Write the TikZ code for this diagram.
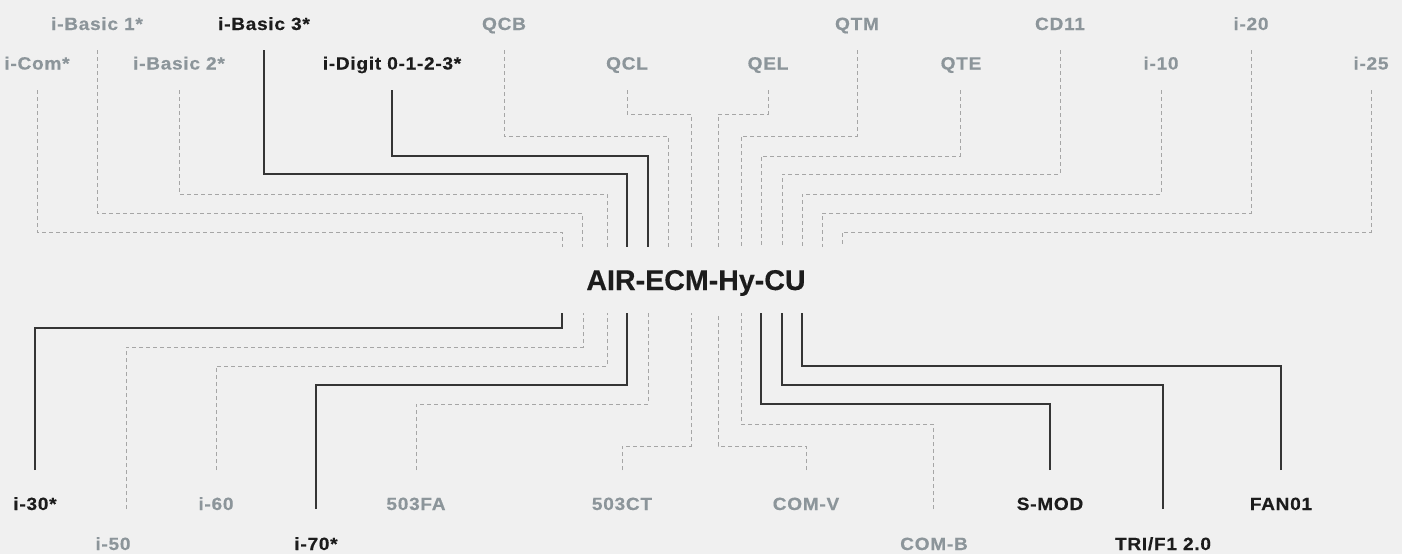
\documentclass[tikz,border=0pt]{standalone}
\usepackage{fontspec}
\newfontfamily\labfont{Liberation Sans}[FakeStretch=1.08, LetterSpace=4, FakeBold=0.4]
\newfontfamily\titfont{Liberation Sans}[FakeBold=0.3]
\definecolor{bg}{HTML}{F0F0F0}
\definecolor{gtext}{HTML}{8C959A}
\definecolor{dtext}{HTML}{1C1C1C}
\definecolor{gline}{HTML}{A6A6A6}
\definecolor{dline}{HTML}{353535}
\begin{document}
\begin{tikzpicture}[x=1pt,y=-1pt,
  lab/.style={font=\labfont\bfseries\fontsize{17.7}{20}\selectfont, inner sep=0pt, anchor=base},
  glab/.style={lab, text=gtext},
  dlab/.style={lab, text=dtext},
  dl/.style={draw=gline, line width=1pt, dash pattern=on 4pt off 3pt},
  sl/.style={draw=dline, line width=1.4pt}]
\path[use as bounding box, fill=bg] (0,0) rectangle (1402,554);
\node[font=\titfont\bfseries\fontsize{28.6}{32}\selectfont, text=dtext, inner sep=0pt,
  text height=43pt, text depth=23pt, anchor=base] (hub) at (696,290) {AIR-ECM-Hy-CU};
% top labels
\node[glab] (ib1) at (97,30) {i-Basic 1*};
\node[dlab] (ib3) at (264,30) {i-Basic 3*};
\node[glab] (qcb) at (504,30) {QCB};
\node[glab] (qtm) at (857,30) {QTM};
\node[glab] (cd11) at (1060,30) {CD11};
\node[glab] (i20) at (1251,30) {i-20};
\node[glab] (icom) at (37,69.5) {i-Com*};
\node[glab] (ib2) at (179,69.5) {i-Basic 2*};
\node[dlab] (idig) at (392,69.5) {i-Digit 0-1-2-3*};
\node[glab] (qcl) at (627,69.5) {QCL};
\node[glab] (qel) at (768,69.5) {QEL};
\node[glab] (qte) at (961,69.5) {QTE};
\node[glab] (i10) at (1161,69.5) {i-10};
\node[glab] (i25) at (1371,69.5) {i-25};
% bottom labels
\node[dlab] (i30) at (35,510) {i-30*};
\node[glab] (i60) at (216,510) {i-60};
\node[glab] (fa) at (416,510) {503FA};
\node[glab] (ct) at (622,510) {503CT};
\node[glab] (comv) at (806,510) {COM-V};
\node[dlab] (smod) at (1050,510) {S-MOD};
\node[dlab] (fan) at (1281,510) {FAN01};
\node[glab] (i50) at (113,550) {i-50};
\node[dlab] (i70) at (316,550) {i-70*};
\node[glab] (comb) at (934,550) {COM-B};
\node[dlab] (tri) at (1163,550) {TRI/F1 2.0};
% top connectors
\draw[dl] (icom.base) ++(0,20.5) |- (562,232) -- (562,0 |- hub.north);
\draw[dl] (ib1.base) ++(0,20) |- (582,213) -- (582,0 |- hub.north);
\draw[dl] (ib2.base) ++(0,20.5) |- (607,194) -- (607,0 |- hub.north);
\draw[sl] (ib3.base) ++(0,20) |- (627,174) -- (627,0 |- hub.north);
\draw[sl] (idig.base) ++(0,20.5) |- (648,156) -- (648,0 |- hub.north);
\draw[dl] (qcb.base) ++(0,20) |- (668,136) -- (668,0 |- hub.north);
\draw[dl] (qcl.base) ++(0,20.5) |- (691,114) -- (691,0 |- hub.north);
\draw[dl] (qel.base) ++(0,20.5) |- (718,114) -- (718,0 |- hub.north);
\draw[dl] (qtm.base) ++(0,20) |- (741,136) -- (741,0 |- hub.north);
\draw[dl] ([xshift=-1pt]qte.base) ++(0,20.5) |- (761,156) -- (761,0 |- hub.north);
\draw[dl] (cd11.base) ++(0,20) |- (782,174) -- (782,0 |- hub.north);
\draw[dl] (i10.base) ++(0,20.5) |- (802,194) -- (802,0 |- hub.north);
\draw[dl] (i20.base) ++(0,20) |- (822,213) -- (822,0 |- hub.north);
\draw[dl] (i25.base) ++(0,20.5) |- (842,232) -- (842,0 |- hub.north);
% bottom connectors
\draw[sl] (i30.base) ++(0,-40) |- (562,328) -- (562,0 |- hub.south);
\draw[dl] ([xshift=13pt]i50.base) ++(0,-41) |- (583,347) -- (583,0 |- hub.south);
\draw[dl] (i60.base) ++(0,-40) |- (607,366) -- (607,0 |- hub.south);
\draw[sl] (i70.base) ++(0,-41) |- (627,385) -- (627,0 |- hub.south);
\draw[dl] (fa.base) ++(0,-40) |- (648,404) -- (648,0 |- hub.south);
\draw[dl] (ct.base) ++(0,-40) |- (691,446) -- (691,0 |- hub.south);
\draw[dl] (comv.base) ++(0,-40) |- (718,446) -- (718,0 |- hub.south);
\draw[dl] ([xshift=-1pt]comb.base) ++(0,-41) |- (741,424) -- (741,0 |- hub.south);
\draw[sl] (smod.base) ++(0,-40) |- (761,404) -- (761,0 |- hub.south);
\draw[sl] (tri.base) ++(0,-41) |- (782,385) -- (782,0 |- hub.south);
\draw[sl] (fan.base) ++(0,-40) |- (802,366) -- (802,0 |- hub.south);
\end{tikzpicture}
\end{document}
